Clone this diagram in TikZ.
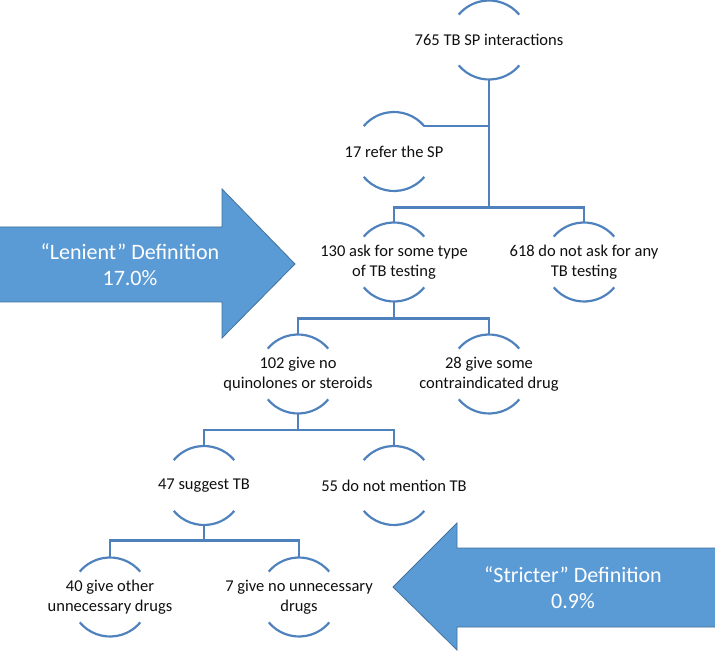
\documentclass[tikz,border=0pt]{standalone}
\usepackage{fontspec}
\setmainfont{Carlito}
\usetikzlibrary{calc}
\definecolor{linec}{RGB}{79,129,189}
\definecolor{arrfill}{RGB}{91,155,213}
\definecolor{arrdraw}{RGB}{65,113,156}
\definecolor{txtc}{RGB}{15,15,15}
\tikzset{
  circ/.style={circle, minimum size=79pt, inner sep=0pt, outer sep=0pt},
  txt/.style={align=center, text=txtc, font=\fontsize{16.5}{19.5}\selectfont, inner sep=0pt},
  ln/.style={draw=linec, line width=2.2pt},
  bigarrow/.style={fill=arrfill, draw=arrdraw, line width=0.8pt, line join=miter},
  arrtxt/.style={align=center, text=white, font=\fontsize{22}{26}\selectfont, inner sep=0pt}
}
\newcommand\treenode[3]{%
  \node[circ] (#1) at (#2) {};
  \node[txt] (#1-label) at (#1) {#3};
  \draw[ln] (#1.40) arc[start angle=40,end angle=140,radius=39.5pt];
  \draw[ln] (#1.220) arc[start angle=220,end angle=320,radius=39.5pt];
}
\begin{document}
\begin{tikzpicture}[x=1pt,y=-1pt]
\useasboundingbox (0,0) rectangle (715,652);
% arrows
\draw[bigarrow] (-1,227) -- (222,227) -- (222,189) -- (295,264) -- (222,338) -- (222,302) -- (-1,302) -- cycle;
\node[arrtxt] (len) at (130,264.5) {“Lenient” Definition\\17.0\%};
\draw[bigarrow] (716,548) -- (457,548) -- (457,523) -- (393,587) -- (457,650) -- (457,627) -- (716,627) -- cycle;
\node[arrtxt] (str) at (573,587.5) {“Stricter” Definition\\0.9\%};
% tree nodes
\treenode{root}{489,40}{765 TB SP interactions}
\treenode{ref}{394,151.5}{17 refer the SP}
\treenode{ask}{394,262}{130 ask for some type\\of TB testing}
\treenode{noask}{584,262}{618 do not ask for any\\TB testing}
\treenode{noq}{298,374}{102 give no\\quinolones or steroids}
\treenode{contra}{489,374}{28 give some\\contraindicated drug}
\treenode{sug}{204,485.5}{47 suggest TB}
\treenode{nomen}{394,485.5}{55 do not mention TB}
\treenode{other}{110,597}{40 give other\\unnecessary drugs}
\treenode{nounn}{299,597}{7 give no unnecessary\\drugs}
% connectors
\draw[ln] (ref.40) -- (ref.40 -| root.south);
\draw[ln] (root.south) |- ($(ask.north)+(0,15pt)$) -- (ask.north);
\draw[ln] (root.south) |- ($(noask.north)+(0,15pt)$) -- (noask.north);
\draw[ln] (ask.south) |- ($(noq.north)+(0,16pt)$) -- (noq.north);
\draw[ln] (ask.south) |- ($(contra.north)+(0,16pt)$) -- (contra.north);
\draw[ln] (noq.south) |- ($(sug.north)+(0,16pt)$) -- (sug.north);
\draw[ln] (noq.south) |- ($(nomen.north)+(0,16pt)$) -- (nomen.north);
\draw[ln] (sug.south) |- ($(other.north)+(0,17pt)$) -- (other.north);
\draw[ln] (sug.south) |- ($(nounn.north)+(0,17pt)$) -- (nounn.north);
\end{tikzpicture}
\end{document}
